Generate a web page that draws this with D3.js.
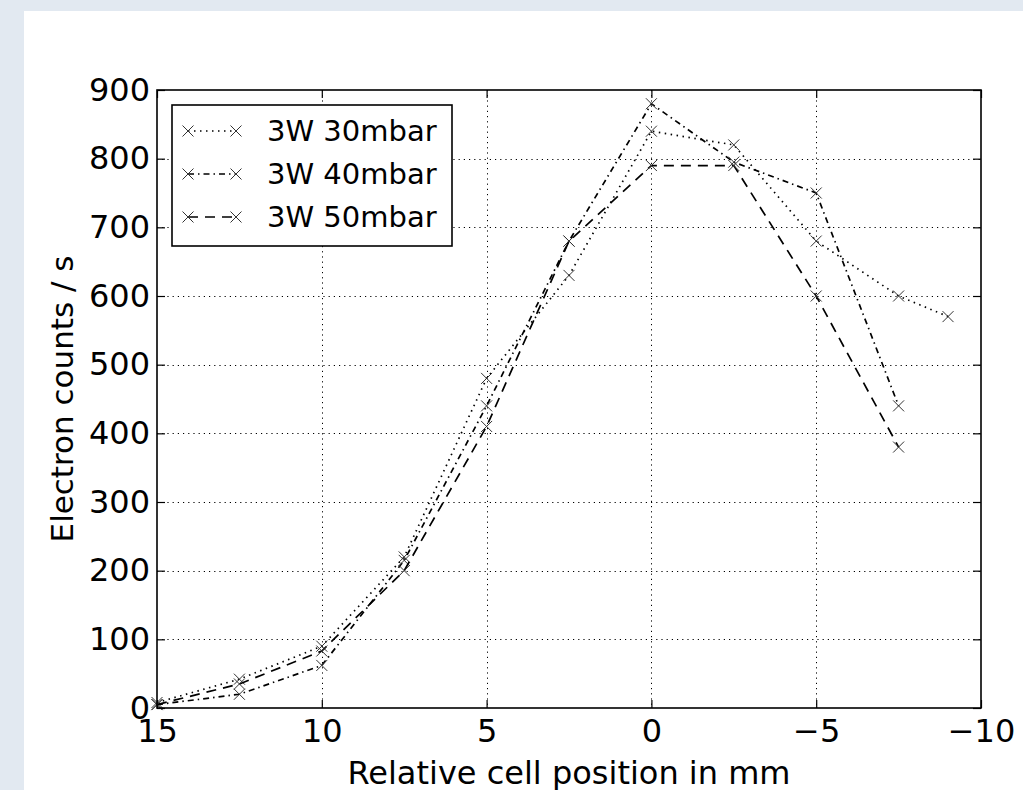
<!DOCTYPE html>
<html>
<head>
<meta charset="utf-8">
<script src="https://cdn.jsdelivr.net/npm/d3@7"></script>
<style>
  body { margin: 0; background: #e2e9f1; }
  svg { display: block; }
  text { font-family: "DejaVu Sans", sans-serif; fill: #000; }
</style>
</head>
<body>
<svg id="chart" width="1023" height="790"></svg>
<script>
// positions in mm (x axis runs 15 -> -10)
let pos30 = [15, 12.5, 10, 7.5, 5, 2.5, 0, -2.5, -5, -7.5, -9];
let counts30 = [8, 42, 90, 220, 480, 630, 840, 820, 680, 600, 570];

let pos40 = [15, 12.5, 10, 7.5, 5, 2.5, 0, -2.5, -5, -7.5];
let counts40 = [5, 20, 62, 215, 440, 680, 880, 795, 750, 440];

let pos50 = [15, 12.5, 10, 7.5, 5, 2.5, 0, -2.5, -5, -7.5];
let counts50 = [5, 35, 83, 200, 410, 680, 790, 790, 600, 380];

let seriesNames = ["3W 30mbar", "3W 40mbar", "3W 50mbar"];
let xTicks = [15, 10, 5, 0, -5, -10];
let yTicks = [0, 100, 200, 300, 400, 500, 600, 700, 800, 900];

let dashes = ["1.5,4.5", "6,4,1.5,4", "10,7"];

let series = [
  { name: seriesNames[0], pts: pos30.map((p, i) => [p, counts30[i]]), dash: dashes[0] },
  { name: seriesNames[1], pts: pos40.map((p, i) => [p, counts40[i]]), dash: dashes[1] },
  { name: seriesNames[2], pts: pos50.map((p, i) => [p, counts50[i]]), dash: dashes[2] }
];

let pLeft = 157, pRight = 981, pTop = 90, pBottom = 708;

let svg = d3.select("#chart");

// white figure panel
svg.append("rect")
  .attr("x", 24).attr("y", 11)
  .attr("width", 1023 - 24).attr("height", 790 - 11)
  .attr("fill", "#fff");

let xscale = d3.scaleLinear().domain([15, -10]).range([pLeft, pRight]);
let yscale = d3.scaleLinear().domain([0, 900]).range([pBottom, pTop]);

// grid
let grid = svg.append("g")
  .attr("stroke", "#000")
  .attr("stroke-width", 1)
  .attr("stroke-dasharray", "1.2,4");

grid.selectAll(".gx").data(xTicks.slice(1, -1)).enter().append("line")
  .attr("x1", d => Math.round(xscale(d)) + 0.5).attr("x2", d => Math.round(xscale(d)) + 0.5)
  .attr("y1", pTop).attr("y2", pBottom);

grid.selectAll(".gy").data(yTicks.slice(1, -1)).enter().append("line")
  .attr("y1", d => Math.round(yscale(d)) + 0.5).attr("y2", d => Math.round(yscale(d)) + 0.5)
  .attr("x1", pLeft).attr("x2", pRight);

// axes, ticks inside
let fmt = d3.format("");
svg.append("g")
  .attr("transform", "translate(0," + pBottom + ")")
  .call(d3.axisBottom(xscale).tickValues(xTicks).tickFormat(fmt).tickSize(-8).tickPadding(11))
  .call(g => g.select(".domain").remove());

svg.append("g")
  .attr("transform", "translate(" + pLeft + ",0)")
  .call(d3.axisLeft(yscale).tickValues(yTicks).tickSize(-8).tickPadding(7))
  .call(g => g.select(".domain").remove());

svg.append("g")
  .attr("transform", "translate(0," + pTop + ")")
  .call(d3.axisTop(xscale).tickValues(xTicks).tickFormat("").tickSize(-8))
  .call(g => g.select(".domain").remove());

svg.append("g")
  .attr("transform", "translate(" + pRight + ",0)")
  .call(d3.axisRight(yscale).tickValues(yTicks).tickFormat("").tickSize(-8))
  .call(g => g.select(".domain").remove());

svg.selectAll(".tick text")
  .attr("font-family", "DejaVu Sans")
  .attr("font-size", 32)
  .attr("fill", "#000");
svg.selectAll(".tick line").attr("stroke", "#000").attr("stroke-width", 1.2);

// lines
let line = d3.line()
  .x(d => xscale(d[0]))
  .y(d => yscale(d[1]));

function cross(g, x, y) {
  let s = 5.5;
  g.append("path")
    .attr("d", `M${x - s},${y - s}L${x + s},${y + s}M${x - s},${y + s}L${x + s},${y - s}`)
    .attr("stroke", "#333")
    .attr("stroke-width", 1)
    .attr("fill", "none");
}

series.forEach(s => {
  svg.append("path")
    .datum(s.pts)
    .attr("d", line)
    .attr("fill", "none")
    .attr("stroke", "#000")
    .attr("stroke-width", 1.7)
    .attr("stroke-dasharray", s.dash);
  let mg = svg.append("g");
  s.pts.forEach(d => cross(mg, xscale(d[0]), yscale(d[1])));
});

// frame
svg.append("rect")
  .attr("x", pLeft).attr("y", pTop)
  .attr("width", pRight - pLeft).attr("height", pBottom - pTop)
  .attr("fill", "none")
  .attr("stroke", "#000")
  .attr("stroke-width", 1.6);

// legend
let lg = svg.append("g");
lg.append("rect")
  .attr("x", 172).attr("y", 105)
  .attr("width", 280).attr("height", 141)
  .attr("fill", "#fff")
  .attr("stroke", "#000")
  .attr("stroke-width", 1.6);

series.forEach((s, i) => {
  let y = 131 + i * 43;
  lg.append("line")
    .attr("x1", 188).attr("x2", 236)
    .attr("y1", y).attr("y2", y)
    .attr("stroke", "#000")
    .attr("stroke-width", 1.7)
    .attr("stroke-dasharray", s.dash);
  cross(lg, 188, y);
  cross(lg, 236, y);
  lg.append("text")
    .attr("x", 267).attr("y", y)
    .attr("dy", "0.35em")
    .attr("font-size", 29)
    .text(s.name);
});

// axis labels
svg.append("text")
  .attr("x", (pLeft + pRight) / 2).attr("y", 784)
  .attr("text-anchor", "middle")
  .attr("font-size", 32)
  .text("Relative cell position in mm");

svg.append("text")
  .attr("transform", "translate(73," + (pTop + pBottom) / 2 + ") rotate(-90)")
  .attr("text-anchor", "middle")
  .attr("font-size", 31)
  .text("Electron counts / s");
</script>
</body>
</html>
